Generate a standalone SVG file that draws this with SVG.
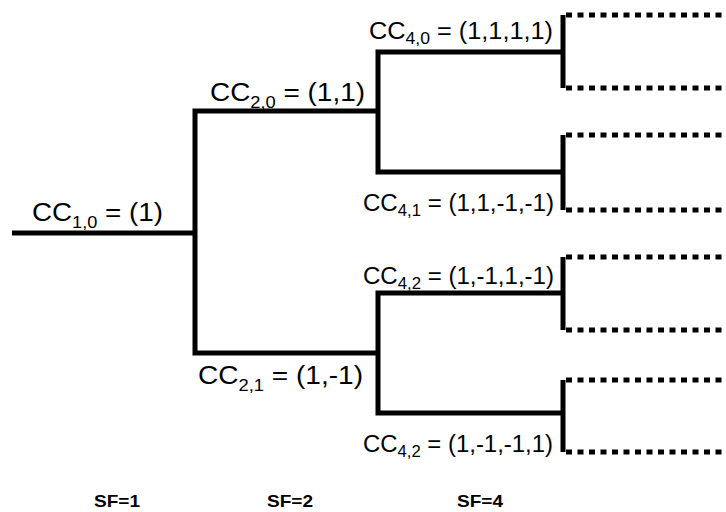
<svg xmlns="http://www.w3.org/2000/svg" width="726" height="512" viewBox="0 0 726 512">
<style>
.ln{fill:none;stroke:#000;stroke-width:5;stroke-linejoin:miter;stroke-linecap:butt}
.ds{fill:none;stroke:#000;stroke-width:5;stroke-dasharray:6 5.5}
.big{font-family:"Liberation Sans",Arial,sans-serif;font-size:26px;fill:#000}
.sm{font-family:"Liberation Sans",Arial,sans-serif;font-size:23px;fill:#000}
.sf{font-family:"Liberation Sans",Arial,sans-serif;font-size:17px;font-weight:bold;fill:#000}
</style>
<rect width="726" height="512" fill="#fff"/>
<g id="connectors">
<path class="ln" d="M12,233 H195"/>
<path class="ln" d="M378,111 H195 V353 H378"/>
<path class="ln" d="M563,52 H378 V172 H563"/>
<path class="ln" d="M563,293 H378 V413 H563"/>
<path class="ln" d="M563,15 V88"/>
<path class="ln" d="M563,135 V210"/>
<path class="ln" d="M563,257 V330"/>
<path class="ln" d="M563,380 V452"/>
<path class="ds" d="M566,15 H726 M566,88 H726 M566,135 H726 M566,210 H726 M566,257 H726 M566,330 H726 M566,380 H726 M566,452 H726"/>
</g>
<g id="cc10"><text class="big" x="32" y="221" textLength="131" lengthAdjust="spacingAndGlyphs">CC<tspan font-size="17" dy="7">1,0</tspan><tspan dy="-7"> = (1)</tspan></text></g>
<g id="cc20"><text class="big" x="210" y="101" textLength="155" lengthAdjust="spacingAndGlyphs">CC<tspan font-size="17" dy="7">2,0</tspan><tspan dy="-7"> = (1,1)</tspan></text></g>
<g id="cc21"><text class="big" x="198" y="384" textLength="165" lengthAdjust="spacingAndGlyphs">CC<tspan font-size="17" dy="7">2,1</tspan><tspan dy="-7"> = (1,-1)</tspan></text></g>
<g id="cc40"><text class="sm" x="369" y="39" textLength="184" lengthAdjust="spacingAndGlyphs">CC<tspan font-size="16" dy="5">4,0</tspan><tspan dy="-5"> =  (1,1,1,1)</tspan></text></g>
<g id="cc41"><text class="sm" x="363" y="211" textLength="191" lengthAdjust="spacingAndGlyphs">CC<tspan font-size="16" dy="5">4,1</tspan><tspan dy="-5"> = (1,1,-1,-1)</tspan></text></g>
<g id="cc42a"><text class="sm" x="363" y="284" textLength="191" lengthAdjust="spacingAndGlyphs">CC<tspan font-size="16" dy="5">4,2</tspan><tspan dy="-5"> = (1,-1,1,-1)</tspan></text></g>
<g id="cc42b"><text class="sm" x="363" y="452" textLength="190" lengthAdjust="spacingAndGlyphs">CC<tspan font-size="16" dy="5">4,2</tspan><tspan dy="-5"> = (1,-1,-1,1)</tspan></text></g>
<g id="sf1"><text class="sf" x="94" y="507" textLength="46" lengthAdjust="spacingAndGlyphs">SF=1</text></g>
<g id="sf2"><text class="sf" x="267" y="507" textLength="46" lengthAdjust="spacingAndGlyphs">SF=2</text></g>
<g id="sf4"><text class="sf" x="457" y="507" textLength="46" lengthAdjust="spacingAndGlyphs">SF=4</text></g>
</svg>
